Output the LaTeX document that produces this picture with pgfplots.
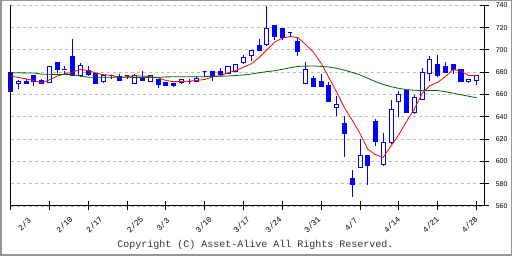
\documentclass[border=0pt]{standalone}
\usepackage{fontspec}
\setmainfont{Liberation Sans}
\newfontfamily\monofont{Liberation Mono}
\usepackage{pgfplots}
\usepackage{pgfplotstable}
\pgfplotsset{compat=1.18}
\definecolor{cblue}{RGB}{0,0,255}
\definecolor{mared}{RGB}{255,0,0}
\definecolor{magreen}{RGB}{0,100,0}
\definecolor{gridc}{RGB}{190,190,190}
\definecolor{framec}{RGB}{150,150,150}

\pgfplotstableread{
i o h l c
0 680 680 663 663
1 669.5 673 665 672
2 672 674 670 670
3 677 677.5 668 672
4 672.5 674 669 669.5
5 671 685.5 671 685
6 689 689 679 682.5
7 682 686 678.6 682.2
8 694 710 677 677.4
9 677.4 688 676 685.8
10 681.6 685.5 677 678
11 679 679.5 670 670.1
12 672 678.6 670.7 676.8
13 677.4 677.6 673.7 677.4
14 676 678.6 672 672.8
15 677.4 677.6 673.7 677.4
16 670.1 678 670 677.4
17 675.5 681 672.8 672.8
18 672 677.5 672 677.4
19 673.4 673.4 665.6 669
20 670.7 671.3 667.5 668.3
21 669.8 670 667 668
22 671 673.7 669.5 673.1
23 671.6 673.7 669.5 671.6
24 671.6 676.7 671.6 674.6
25 680.7 681 676.1 680.7
26 680.7 680.7 672 677.1
27 680.7 683.4 678 678
28 679.2 686 679.2 685.2
29 680.7 686.7 680.7 686.7
30 688.8 695.1 687.6 693
31 694.8 699.3 690.3 699.3
32 704.2 709.6 698.7 699.6
33 704.8 739.5 703.9 719.2
34 722 722 709.3 711.7
35 719.2 720 709 711.1
36 715.6 715.8 712.3 715.6
37 707.8 710.3 694.5 699
38 669.5 688.8 669.5 682.2
39 674.3 677 667.4 667.4
40 671.6 678.6 667.4 667.4
41 668 671.6 654 654
42 648.7 659 641 650.9
43 634.3 640.3 604.2 625
44 584.7 592.2 568.1 579.2
45 594.3 619.8 594.3 605.4
46 605.4 605.4 579 596.4
47 635.5 638.2 613.8 617.7
48 597.3 625.3 595.8 617.1
49 617.1 655.4 616 646.3
50 653.3 663.5 639.5 659.6
51 663.5 664 643.5 643.5
52 644 659.6 642.6 657
53 655.2 683.4 655.2 679.5
54 678.6 694.2 672.3 691.2
55 687 695.1 675.9 676.8
56 685.2 688.8 679.8 679.8
57 687 687 678 682.5
58 682.5 682.5 671.3 671.3
59 671.3 673.1 670.4 673.1
60 672.3 676.8 668.6 676.8
}\candles

\pgfplotstableread{
i v
0 676.5
1 675.3
2 674
3 672.5
4 670.5
5 673
6 676.5
7 678.5
8 680
9 682.5
10 681.5
11 679.2
12 677.7
13 677.4
14 675
15 676
16 676.8
17 676.5
18 676
19 675
20 672.6
21 671.5
22 671.6
23 672
24 672.6
25 673.5
26 675.8
27 676.8
28 679.5
29 681.5
30 684.5
31 687.5
32 693
33 700
34 707
35 710.5
36 712
37 711
38 704.8
39 698
40 688
41 675
42 662
43 648
44 637
45 625
46 611
47 606
48 603.6
49 614
50 624
51 636
52 647
53 661
54 668
55 671
56 676
57 682.5
58 681
59 677
60 677
}\mafast

\pgfplotstableread{
i v
0 679.5
3 679.3
4 678.2
8 677.8
9 676.5
10 675.5
19 675.3
20 675.8
25 676
28 676.6
30 677.5
31 678.3
32 679.5
33 680.5
34 681.3
35 682.6
36 684
37 685.2
39 685.6
40 685.2
41 684.6
42 683.5
43 681.8
44 679.8
45 677.5
46 674.5
47 671.5
48 669
49 667
50 665.5
51 664.3
52 663.8
53 663.5
55 663.5
56 662.5
57 661.2
58 659.8
59 658.4
60 657.2
}\maslow

\pgfplotsset{
  candleup/.style={draw=cblue, fill=white, line width=1pt, line join=miter},
  candledn/.style={draw=cblue, fill=cblue, line width=1pt, line join=miter},
}

\begin{document}
\begin{tikzpicture}
\useasboundingbox (0,0) rectangle (512pt,256pt);
\draw[framec, line width=1.5pt] (0.75pt,0.75pt) rectangle (511.25pt,255.25pt);
\begin{axis}[
  at={(10.5pt,50pt)}, anchor=south west,
  scale only axis, width=473.8pt, height=200.7pt,
  xmin=0, xmax=61, ymin=560, ymax=740,
  clip=false,
  axis x line*=bottom, axis y line*=right,
  axis line style={black, line width=1pt},
  xtick={0,5,...,60},
  xticklabels={2/3,2/10,2/17,2/25,3/3,3/10,3/17,3/24,3/31,4/7,4/14,4/21,4/28},
  ytick={560,580,...,740},
  tick align=center, major tick length=9pt,
  tick style={black, line width=1pt},
  ymajorgrids, xmajorgrids=false,
  major grid style={gridc, line width=0.8pt, dash pattern=on 3pt off 3pt},
  /pgf/number format/assume math mode=true,
  yticklabel style={font=\fontsize{7}{8}\selectfont, anchor=west, xshift=3.5pt},
  xticklabel style={font=\monofont\fontsize{8}{9}\selectfont, anchor=center,
     yshift=-14pt, xshift={{14,15,6,8,-3,-1,-2,-9,-9,-9,-7,-7,-7}[\ticknum]}, rotate=45},
]
\pgfplotstablegetrowsof{\candles}
\pgfmathtruncatemacro\nrows{\pgfplotsretval-1}
\pgfplotsforeachungrouped \r in {0,...,\nrows}{%
  \pgfplotstablegetelem{\r}{i}\of\candles \let\ci\pgfplotsretval
  \pgfplotstablegetelem{\r}{o}\of\candles \let\co\pgfplotsretval
  \pgfplotstablegetelem{\r}{h}\of\candles \let\chi\pgfplotsretval
  \pgfplotstablegetelem{\r}{l}\of\candles \let\clo\pgfplotsretval
  \pgfplotstablegetelem{\r}{c}\of\candles \let\ccl\pgfplotsretval
  \pgfmathsetmacro\bl{min(\co,\ccl)}%
  \pgfmathsetmacro\bh{max(\co,\ccl)}%
  \pgfmathsetmacro\xa{\ci-0.26}%
  \pgfmathsetmacro\xb{\ci+0.26}%
  \pgfmathtruncatemacro\isdn{\ccl<\co}%
  \ifnum\isdn=1 \def\sty{candledn}\else\def\sty{candleup}\fi
  \edef\doplot{\noexpand\addplot[cblue, line width=1pt, forget plot] coordinates {(\ci,\clo) (\ci,\chi)};}%
  \doplot
  \edef\doplot{\noexpand\addplot[\sty, forget plot] coordinates {(\xa,\bl) (\xb,\bl) (\xb,\bh) (\xa,\bh)} -- cycle;}%
  \doplot
}
\addplot[mared, line width=0.8pt, mark=none] table[x=i, y=v] {\mafast};
\addplot[magreen, line width=0.8pt, mark=none] table[x=i, y=v] {\maslow};
\draw[black, line width=1pt] (rel axis cs:0,0) -- (rel axis cs:0,1);
\end{axis}
\node[font=\monofont\fontsize{10}{12}\selectfont, text=black!80, anchor=center, inner sep=0pt] at (255.5pt,11pt) {Copyright (C) Asset-Alive All Rights Reserved.};
\end{tikzpicture}
\end{document}
